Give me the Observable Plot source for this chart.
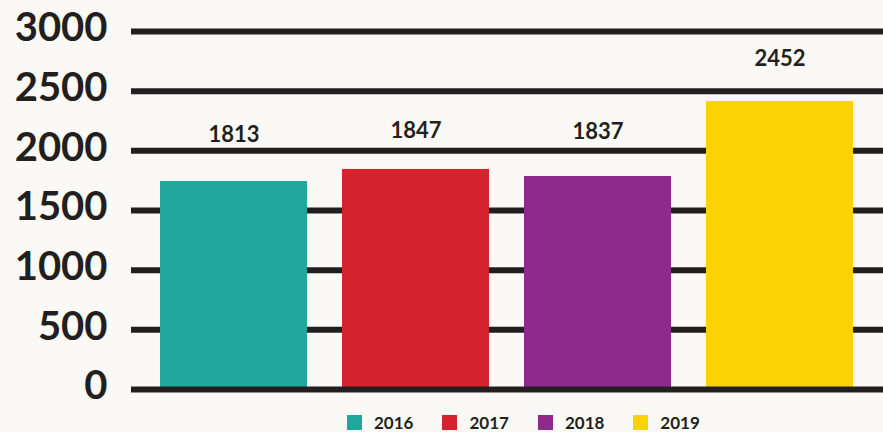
<!DOCTYPE html>
<html>
<head>
<meta charset="utf-8">
<script src="https://cdn.jsdelivr.net/npm/d3@7"></script>
<script src="https://cdn.jsdelivr.net/npm/@observablehq/plot@0.6"></script>
<style>
  html, body { margin: 0; padding: 0; background: #faf9f5; overflow: hidden; }
  #chart { width: 883px; height: 432px; overflow: hidden; }
  .lg-swatches { min-height: 20px !important; height: 20px; }
  .lg-swatch { margin-right: 29px !important; }
  .lg-swatch > svg { margin-right: 12px !important; }
</style>
</head>
<body>
<div id="chart"></div>
<script>
const years = ["2016", "2017", "2018", "2019"];
const barValues = [1743, 1844, 1785, 2413];
const labelValues = [1813, 1847, 1837, 2452];
const colors = ["#1fa89b", "#d4232d", "#8e2a8c", "#fbd305"];
const yTicks = [0, 500, 1000, 1500, 2000, 2500, 3000];

const data = years.map((y, i) => ({year: y, bar: barValues[i], label: labelValues[i]}));
const ink = "#231f20";

const plot = Plot.plot({
  width: 883,
  height: 410,
  marginLeft: 131,
  marginRight: 0,
  marginTop: 31,
  marginBottom: 21,
  style: {background: "#faf9f5", fontFamily: "Lato, sans-serif", color: ink},
  x: {domain: years, paddingInner: 0.1923, paddingOuter: 0.162, axis: null},
  y: {domain: [0, 3000]},
  color: {domain: years, range: colors},
  marks: [
    Plot.ruleY(yTicks.filter(d => d > 0), {stroke: ink, strokeWidth: 6}),
    Plot.barY(data, {x: "year", y: "bar", fill: "year"}),
    Plot.ruleY([0], {stroke: ink, strokeWidth: 6}),
    Plot.text(data, {x: "year", y: "label", text: d => String(d.label), dy: -38, fontSize: 22, fontWeight: 700, fill: ink}),
    Plot.axisY({ticks: yTicks, tickSize: 0, tickPadding: 24, tickFormat: d => String(d), fontSize: 40, fontWeight: 700, label: null, dy: -3, fill: ink})
  ]
});

const legend = plot.legend("color", {
  swatchSize: 15,
  className: "lg",
  style: {fontSize: "17px", fontFamily: "Lato, sans-serif", fontWeight: 700, color: ink, marginLeft: "347px", marginTop: "2px", background: "#faf9f5"}
});

const chart = document.getElementById("chart");
chart.appendChild(plot);
chart.appendChild(legend);
</script>
</body>
</html>
